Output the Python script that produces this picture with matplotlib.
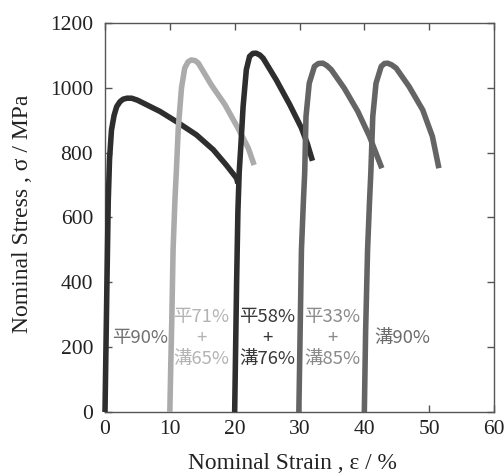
import matplotlib
matplotlib.use("Agg")
import matplotlib.pyplot as plt

# ---- data (strain %, stress MPa) ----
s1_x = [0.0, 0.15, 0.3, 0.5, 0.7, 1.0, 1.4, 1.8, 2.3, 2.8, 3.4, 4.1, 5.0, 5.9, 8.5, 11.0, 14.1, 16.7, 18.7, 20.3, 20.5]
s1_y = [0, 200, 400, 650, 780, 870, 915, 942, 957, 965, 968, 968, 962, 953, 927, 896, 855, 809, 762, 721, 705]

s2_x = [10.0, 10.15, 10.3, 10.5, 10.8, 11.0, 11.3, 11.8, 12.3, 12.8, 13.3, 13.9, 14.4, 16.4, 18.5, 20.5, 22.1, 23.0]
s2_y = [0, 150, 280, 500, 660, 740, 875, 1000, 1061, 1080, 1086, 1084, 1076, 1009, 948, 876, 814, 762]

s3_x = [20.0, 20.15, 20.3, 20.5, 20.7, 20.95, 21.3, 21.8, 22.3, 22.8, 23.3, 23.9, 24.4, 26.4, 28.5, 30.3, 31.2, 32.0]
s3_y = [0, 200, 400, 620, 740, 820, 942, 1056, 1097, 1106, 1107, 1101, 1091, 1025, 948, 876, 828, 775]

s4_x = [29.9, 30.1, 30.3, 30.6, 30.8, 31.0, 31.5, 32.3, 32.9, 33.6, 34.2, 34.9, 36.9, 39.0, 40.8, 42.0, 42.7]
s4_y = [0, 250, 500, 650, 737, 911, 1014, 1066, 1075, 1076, 1069, 1056, 999, 927, 850, 788, 752]

s5_x = [40.0, 40.2, 40.5, 40.8, 41.0, 41.3, 41.8, 42.6, 43.1, 43.6, 44.2, 44.9, 46.9, 49.0, 50.5, 51.5]
s5_y = [0, 250, 500, 650, 737, 911, 1014, 1066, 1075, 1076, 1071, 1061, 1004, 932, 850, 752]

labels = ["平90%", "平71%\n+\n溝65%", "平58%\n+\n溝76%", "平33%\n+\n溝85%", "溝90%"]
label_x = [5.4, 14.9, 25.0, 35.0, 45.9]
label_y = [228, 228, 228, 228, 228]

line_colors = ["#2e2e2e", "#ababab", "#2e2e2e", "#646464", "#646464"]
text_colors = ["#707070", "#b3b3b3", "#383838", "#8a8a8a", "#6c6c6c"]

xticks = [0, 10, 20, 30, 40, 50, 60]
yticks = [0, 200, 400, 600, 800, 1000, 1200]

W, H = 504, 476
fig = plt.figure(figsize=(W / 100, H / 100), dpi=100)
ax = fig.add_axes([105 / W, 1 - 412 / H, (494 - 105) / W, (412 - 23) / H])

series = [(s1_x, s1_y), (s2_x, s2_y), (s3_x, s3_y), (s4_x, s4_y), (s5_x, s5_y)]
for (xs, ys), c in zip(series, line_colors):
    ax.plot(xs, ys, color=c, lw=4.0, solid_capstyle='butt', solid_joinstyle='round',
            clip_on=False, zorder=3)

for t, x, y, c in zip(labels, label_x, label_y, text_colors):
    ax.text(x, y, t, color=c, ha='center', va='center', fontsize=13.3,
            family=['Noto Sans CJK JP', 'DejaVu Sans'], linespacing=1.22, zorder=4)

ax.set_xlim(0, 60)
ax.set_ylim(0, 1200)
ax.set_xticks(xticks)
ax.set_yticks(yticks)
ax.tick_params(direction='in', length=5, width=1, color='#555555', top=True, right=True,
               labelsize=15.5, labelcolor='#222222')
ax.tick_params(axis='x', pad=5.5)
ax.tick_params(axis='y', pad=8.5)
for lab in ax.get_xticklabels() + ax.get_yticklabels():
    lab.set_family('Liberation Serif')
for sp in ax.spines.values():
    sp.set_color('#555555')
    sp.set_linewidth(1.0)

fig.text(292 / W, 1 - 469 / H, "Nominal Strain , ε / %", family='Liberation Serif',
         fontsize=16.8, color='#222222', ha='center', va='baseline')
fig.text(23 / W, 1 - 214 / H, "Nominal Stress , σ / MPa", family='Liberation Serif',
         fontsize=17, color='#222222', ha='center', va='center', rotation=90)

fig.savefig("out.png", dpi=100)
